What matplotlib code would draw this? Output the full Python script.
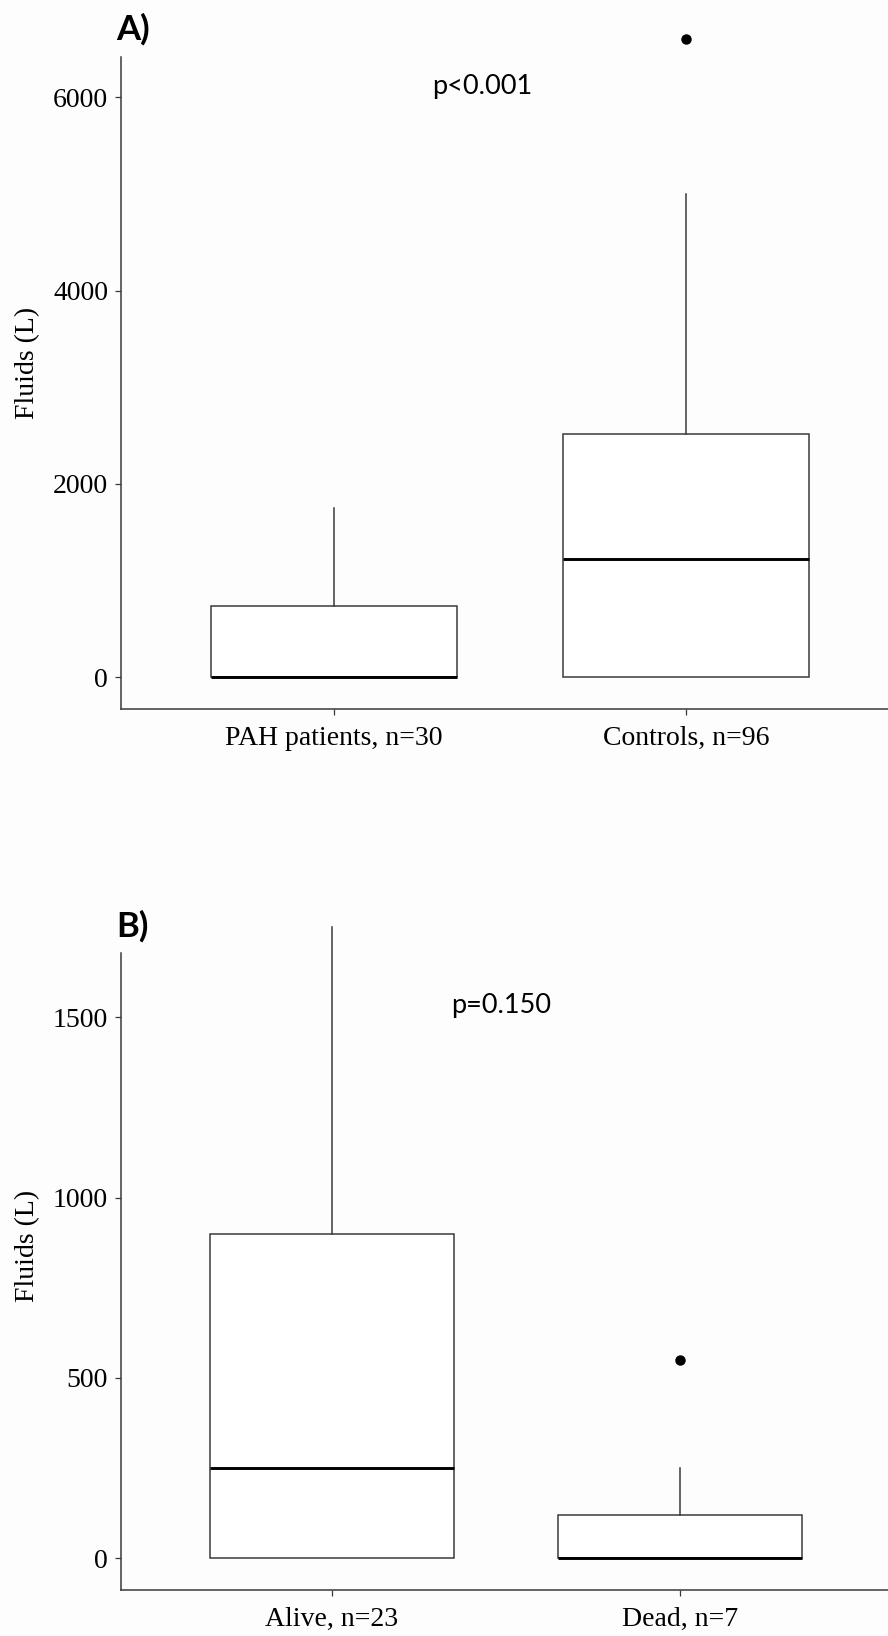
import matplotlib
matplotlib.use("Agg")
import matplotlib.pyplot as plt

# ---- data ----
groups_a = ["PAH patients, n=30", "Controls, n=96"]
q1_a = [0, 0]
med_a = [0, 1225]
q3_a = [740, 2520]
whislo_a = [0, 0]
whishi_a = [1750, 5000]
fliers_a = [[], [6600]]
yticks_a = [0, 2000, 4000, 6000]
ptext_a = "p<0.001"

groups_b = ["Alive, n=23", "Dead, n=7"]
q1_b = [0, 0]
med_b = [250, 0]
q3_b = [900, 120]
whislo_b = [0, 0]
whishi_b = [1750, 250]
fliers_b = [[], [550]]
yticks_b = [0, 500, 1000, 1500]
ptext_b = "p=0.150"

ylabel = "Fluids (L)"

W, H = 888, 1636
BG = "#fdfdfd"
LINE = "#3a3a3a"
SERIF = ["Liberation Serif", "DejaVu Serif"]
SANS = ["Lato", "DejaVu Sans"]

fig = plt.figure(figsize=(W / 100, H / 100), dpi=100, facecolor=BG)


def px_axes(left, top, right, bottom):
    return fig.add_axes([left / W, 1 - bottom / H, (right - left) / W, (bottom - top) / H])


def draw_panel(ax, groups, q1, med, q3, wlo, whi, fl, yticks, xlim, ylim):
    ax.set_facecolor(BG)
    stats = []
    for i, g in enumerate(groups):
        stats.append(dict(label=g, q1=q1[i], med=med[i], q3=q3[i],
                          whislo=wlo[i], whishi=whi[i], fliers=fl[i]))
    arts = ax.bxp(stats, positions=range(len(groups)), widths=0.7,
                  showcaps=False, patch_artist=True,
                  boxprops=dict(facecolor="white", edgecolor=LINE, linewidth=1.1),
                  whiskerprops=dict(color=LINE, linewidth=1.1),
                  medianprops=dict(color="black", linewidth=2.1),
                  flierprops=dict(marker="o", markerfacecolor="black",
                                  markeredgecolor="black", markersize=6.5))
    for key in arts:
        for a in arts[key]:
            a.set_clip_on(False)
    ax.set_xlim(*xlim)
    ax.set_ylim(*ylim)
    ax.set_yticks(yticks)
    ax.set_yticklabels([str(t) for t in yticks])
    ax.set_xticks(range(len(groups)))
    ax.set_xticklabels(groups)
    for s in ["top", "right"]:
        ax.spines[s].set_visible(False)
    for s in ["left", "bottom"]:
        ax.spines[s].set_color(LINE)
        ax.spines[s].set_linewidth(1.1)
    ax.tick_params(axis="both", length=4.3, width=0.9, color=LINE,
                   labelsize=20, labelcolor="black", pad=5)
    ax.tick_params(axis="x", pad=8)
    for lab in ax.get_xticklabels() + ax.get_yticklabels():
        lab.set_fontfamily(SERIF)


axA = px_axes(121, 57, 897, 709.3)
draw_panel(axA, groups_a, q1_a, med_a, q3_a, whislo_a, whishi_a, fliers_a,
           yticks_a, (-0.605, 1.6), (-331, 6415))

axB = px_axes(120.6, 953.3, 888.5, 1590)
draw_panel(axB, groups_b, q1_b, med_b, q3_b, whislo_b, whishi_b, fliers_b,
           yticks_b, (-0.607, 1.6), (-88, 1677))


def ftext(x, y, s, **kw):
    fig.text(x / W, 1 - y / H, s, **kw)


ftext(116, 40, "A)", fontsize=25, fontweight="bold", family=SANS, ha="left", va="baseline")
ftext(116, 937, "B)", fontsize=25, fontweight="bold", family=SANS, ha="left", va="baseline")
ftext(432, 94, ptext_a, fontsize=19.5, family=SANS, ha="left", va="baseline")
ftext(451, 1013, ptext_b, fontsize=19.5, family=SANS, ha="left", va="baseline")
ftext(28, 363, ylabel, fontsize=20, family=SERIF, rotation=90, ha="center", va="center")
ftext(28, 1246, ylabel, fontsize=20, family=SERIF, rotation=90, ha="center", va="center")

fig.savefig("out.png", dpi=100, facecolor=BG)
